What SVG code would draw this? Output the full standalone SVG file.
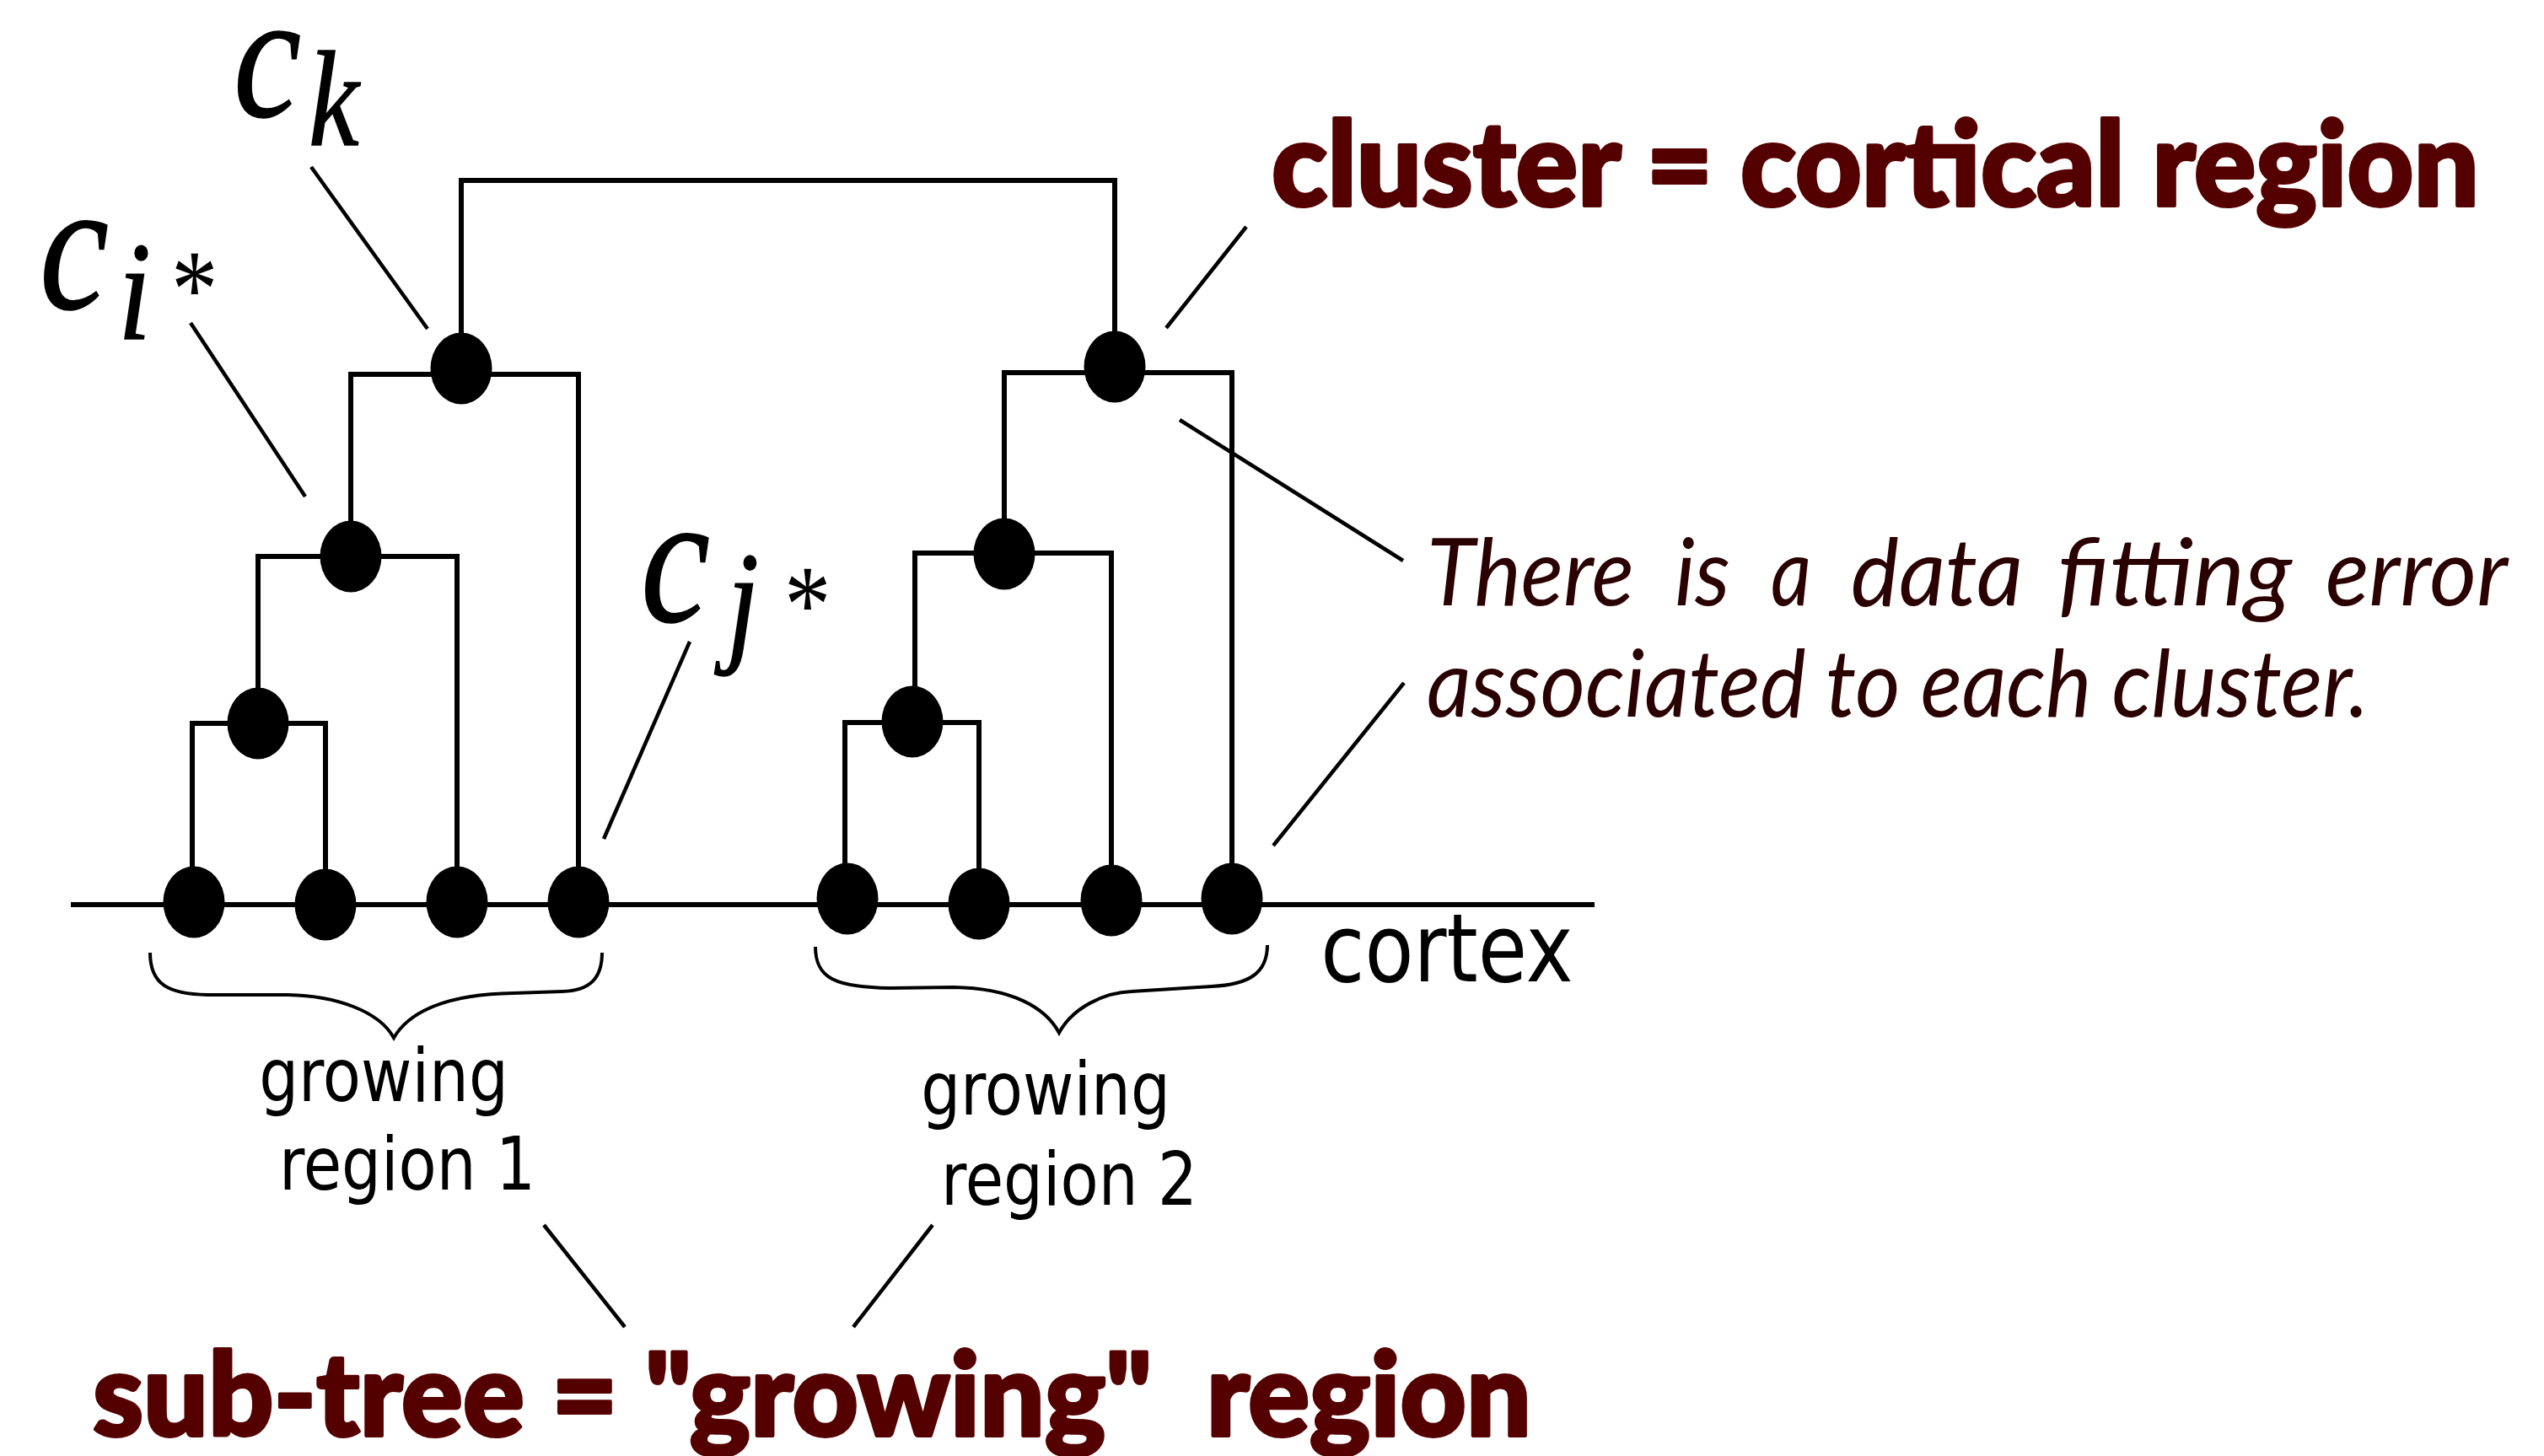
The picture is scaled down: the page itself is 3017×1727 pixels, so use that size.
<svg xmlns="http://www.w3.org/2000/svg" width="3017" height="1727" viewBox="0 0 3017 1727">
<style>
.tree{stroke:#000;stroke-width:6;fill:none;stroke-linejoin:miter;stroke-linecap:square}
.lead{stroke:#000;stroke-width:4.5;fill:none}
.brace{stroke:#000;stroke-width:4;fill:none}
.node{fill:#000}
.math{font-family:"Liberation Serif","Times New Roman",serif;font-style:italic;fill:#000;stroke:#000;stroke-width:1.5}
.ast{font-family:"Liberation Serif","Times New Roman",serif;fill:#000}
.lab{font-family:"DejaVu Sans",sans-serif;fill:#000;text-anchor:middle}
.title{font-family:Lato,"Liberation Sans",sans-serif;font-weight:900;fill:#550000;stroke:#550000;stroke-width:4;stroke-linejoin:round}
.note{font-family:Lato,"Liberation Sans",sans-serif;font-style:italic;fill:#2a0000}
</style>
<rect width="3017" height="1727" fill="#fff"/>
<g id="connectors">
<line class="tree" x1="87" y1="1073" x2="1888" y2="1073"/>
<path class="tree" d="M228,1070 V858 H386 V1073"/>
<path class="tree" d="M306,858 V660 H542 V1070"/>
<path class="tree" d="M416,660 V444 H686 V1070"/>
<path class="tree" d="M547,437 V214 H1322 V435"/>
<path class="tree" d="M1191,657 V442 H1461 V1066"/>
<path class="tree" d="M1085,856 V656 H1318 V1068"/>
<path class="tree" d="M1002,1066 V857 H1161 V1072"/>
<line class="lead" x1="369" y1="198" x2="507" y2="390"/>
<line class="lead" x1="226" y1="383" x2="362" y2="589"/>
<line class="lead" x1="818" y1="761" x2="716" y2="995"/>
<line class="lead" x1="1478" y1="269" x2="1383" y2="389"/>
<line class="lead" x1="1399" y1="498" x2="1664" y2="665"/>
<line class="lead" x1="1665" y1="810" x2="1510" y2="1003"/>
<line class="lead" x1="645" y1="1453" x2="741" y2="1574"/>
<line class="lead" x1="1106" y1="1453" x2="1012" y2="1574"/>
<path class="brace" d="M178,1130 C178,1168 200,1179 246,1180 L341,1180 C400,1181 450,1200 467,1231 C485,1200 530,1179 609,1178 L667,1176 C700,1175 714,1160 714,1130"/>
<path class="brace" d="M967,1123 C967,1160 990,1171 1055,1172 L1131,1171 C1200,1172 1240,1195 1256,1225 C1272,1195 1310,1177 1342,1176 L1437,1170 C1480,1168 1503,1155 1503,1121"/>
</g>
<g id="leaf-1"><ellipse class="node" cx="230" cy="1070" rx="36.5" ry="42.5"/></g>
<g id="leaf-2"><ellipse class="node" cx="386" cy="1073" rx="36.5" ry="42.5"/></g>
<g id="leaf-3"><ellipse class="node" cx="542" cy="1070" rx="36.5" ry="42.5"/></g>
<g id="leaf-4"><ellipse class="node" cx="686" cy="1070" rx="36.5" ry="42.5"/></g>
<g id="node-a"><ellipse class="node" cx="306" cy="858" rx="36.5" ry="42.5"/></g>
<g id="node-ci"><ellipse class="node" cx="416" cy="660" rx="36.5" ry="42.5"/></g>
<g id="node-ck"><ellipse class="node" cx="547" cy="437" rx="36.5" ry="42.5"/></g>
<g id="leaf-5"><ellipse class="node" cx="1005" cy="1066" rx="36.5" ry="42.5"/></g>
<g id="leaf-6"><ellipse class="node" cx="1161" cy="1072" rx="36.5" ry="42.5"/></g>
<g id="leaf-7"><ellipse class="node" cx="1318" cy="1068" rx="36.5" ry="42.5"/></g>
<g id="leaf-8"><ellipse class="node" cx="1461" cy="1066" rx="36.5" ry="42.5"/></g>
<g id="node-r3"><ellipse class="node" cx="1082" cy="856" rx="36.5" ry="42.5"/></g>
<g id="node-r2"><ellipse class="node" cx="1191" cy="657" rx="36.5" ry="42.5"/></g>
<g id="node-r1"><ellipse class="node" cx="1322" cy="435" rx="36.5" ry="42.5"/></g>
<g id="label-ck">
<text class="math" font-size="215" transform="translate(277,138) scale(0.84,1)">c</text>
<text class="math" font-size="160" transform="translate(366,172) scale(0.84,1)">k</text>
</g>
<g id="label-ci">
<text class="math" font-size="220" transform="translate(47,366) scale(0.84,1)">c</text>
<text class="math" font-size="168" transform="translate(140,402) scale(0.84,1)">i</text>
<text class="ast" font-size="132" transform="translate(203,387) scale(0.84,1)">*</text>
</g>
<g id="label-cj">
<text class="math" font-size="220" transform="translate(760,737) scale(0.84,1)">c</text>
<text class="math" font-size="163" transform="translate(862,767) scale(0.84,1)">j</text>
<text class="ast" font-size="132" transform="translate(930,761) scale(0.84,1)">*</text>
</g>
<g id="label-cortex"><text class="lab" font-size="113" transform="translate(1716,1164) scale(0.84,1)">cortex</text></g>
<g id="label-region1">
<text class="lab" font-size="88" transform="translate(455,1306) scale(0.84,1)">growing</text>
<text class="lab" font-size="88" transform="translate(483,1411) scale(0.84,1)">region 1</text>
</g>
<g id="label-region2">
<text class="lab" font-size="88" transform="translate(1240,1322) scale(0.84,1)">growing</text>
<text class="lab" font-size="88" transform="translate(1268,1429) scale(0.84,1)">region 2</text>
</g>
<g id="title-cluster"><text class="title" font-size="140" x="1508" y="244" textLength="1432" lengthAdjust="spacingAndGlyphs">cluster = cortical region</text></g>
<g id="title-subtree"><text class="title" font-size="138" x="110" y="1703" textLength="1706" lengthAdjust="spacingAndGlyphs" xml:space="preserve">sub-tree = "growing"  region</text></g>
<g id="note">
<text class="note" font-size="110" y="718"><tspan x="1692" textLength="246" lengthAdjust="spacingAndGlyphs">There</tspan></text>
<text class="note" font-size="110" y="718"><tspan x="1986" textLength="66" lengthAdjust="spacingAndGlyphs">is</tspan></text>
<text class="note" font-size="110" y="718"><tspan x="2100" textLength="48" lengthAdjust="spacingAndGlyphs">a</tspan></text>
<text class="note" font-size="110" y="718"><tspan x="2195" textLength="204" lengthAdjust="spacingAndGlyphs">data</tspan></text>
<text class="note" font-size="110" y="718"><tspan x="2440" textLength="278" lengthAdjust="spacingAndGlyphs">fitting</tspan></text>
<text class="note" font-size="110" y="718"><tspan x="2758" textLength="216" lengthAdjust="spacingAndGlyphs">error</tspan></text>
<text class="note" font-size="110" x="1692" y="850" textLength="1117" lengthAdjust="spacingAndGlyphs">associated to each cluster.</text>
</g>
</svg>
